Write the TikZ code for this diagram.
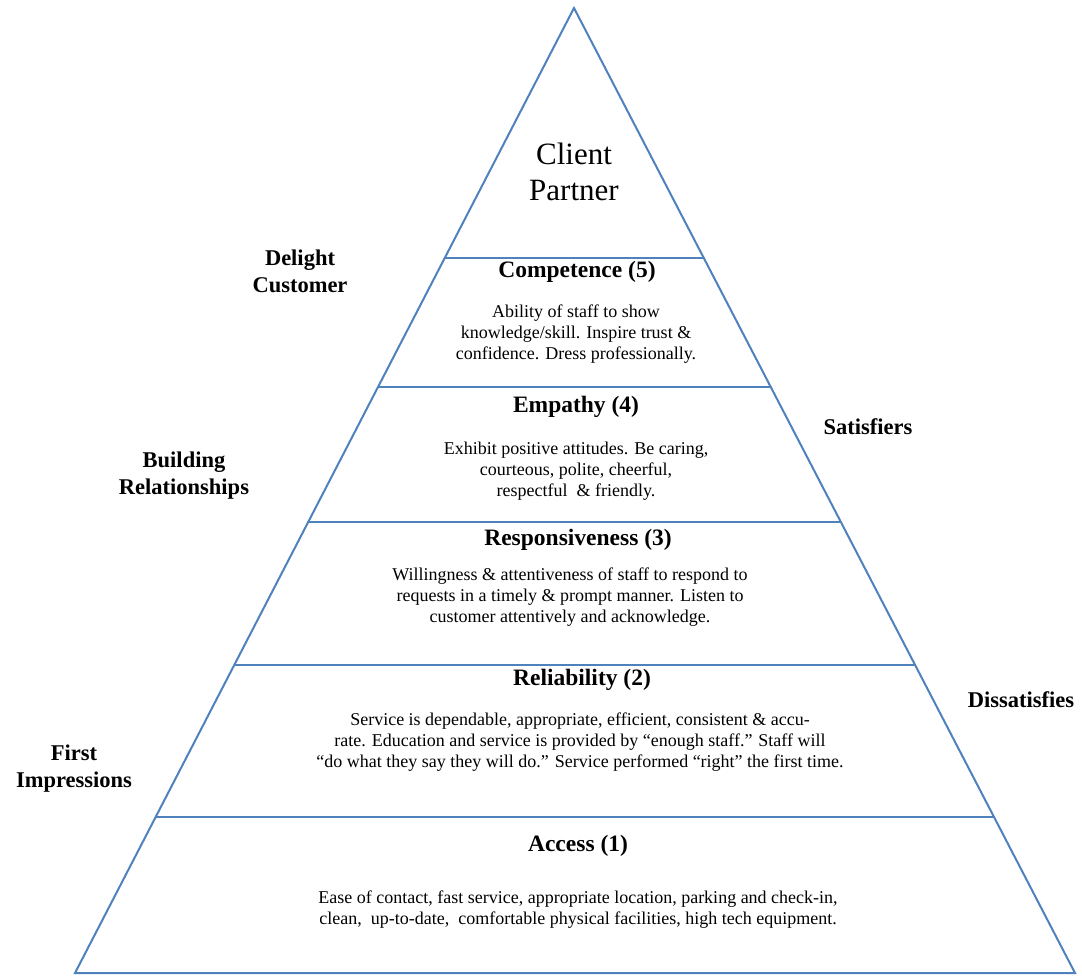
\documentclass[tikz,border=0pt]{standalone}
\usepackage{fontspec}
\setmainfont{Liberation Serif}
\usetikzlibrary{calc,positioning}
\definecolor{pyrblue}{RGB}{79,129,189}
\tikzset{
	edge/.style={draw=pyrblue,line width=2pt},
	peak/.style={font=\fontsize{31}{36}\selectfont,align=center},
	title/.style={font=\fontsize{23.5}{25}\selectfont\bfseries,align=center},
	side/.style={font=\fontsize{22.5}{27}\selectfont\bfseries,align=center},
	body/.style={font=\fontsize{18}{21}\selectfont,align=center}
}

\begin{document}
\begin{tikzpicture}[x=1pt,y=-1pt]
			\useasboundingbox (0,0) rectangle (1082,977);
			\coordinate (top) at (574,8);
			\coordinate (bl) at (75,973);
			\coordinate (br) at (1075,973);
			\draw[edge,line join=miter] (top) -- (bl) -- (br) -- cycle;
			% layer lines
			\foreach \t in {0.2591,0.3927,0.5326,0.6808,0.8383}
				\draw[edge] ($(top)!\t!(bl)$) -- ($(top)!\t!(br)$);
			
			\node[peak] (client) at (574,172) {Client\\Partner};
			
			\node[title] (comp) at (577,272) {Competence (5)};
			\node[body] (compt) at (576,334) {Ability of staff to show\\knowledge/skill. Inspire trust \&\\confidence. Dress professionally.};
			\node[title] (emp) at (576,407) {Empathy (4)};
			\node[body] (empt) at (576,471) {Exhibit positive attitudes. Be caring,\\courteous, polite, cheerful,\\respectful \ \& friendly.};
			\node[title] (resp) at (578,540) {Responsiveness (3)};
			\node[body] (respt) at (570,597) {Willingness \& attentiveness of staff to respond to\\requests in a timely \& prompt manner. Listen to\\customer attentively and acknowledge.};
			\node[title] (rel) at (582,680) {Reliability (2)};
			\node[body] (relt) at (580,742) {Service is dependable, appropriate, efficient, consistent \& accu-\\rate. Education and service is provided by ``enough staff.'' Staff will\\``do what they say they will do.'' Service performed ``right'' the first time.};
			\node[title] (acc) at (578,846) {Access (1)};
			\node[body] (acct) at (578,910) {Ease of contact, fast service, appropriate location, parking and check-in,\\clean, \ up-to-date, \ comfortable physical facilities, high tech equipment.};
			
			\node[side] (delight) at (300,271) {Delight\\Customer};
			\node[side] (build) at (184,476) {Building\\Relationships};
			\node[side] (first) at (74,769) {First\\Impressions};
			\node[side] (sat) at (868,427) {Satisfiers};
			\node[side] (dis) at (1021,700) {Dissatisfies};
		\end{tikzpicture}
\end{document}
